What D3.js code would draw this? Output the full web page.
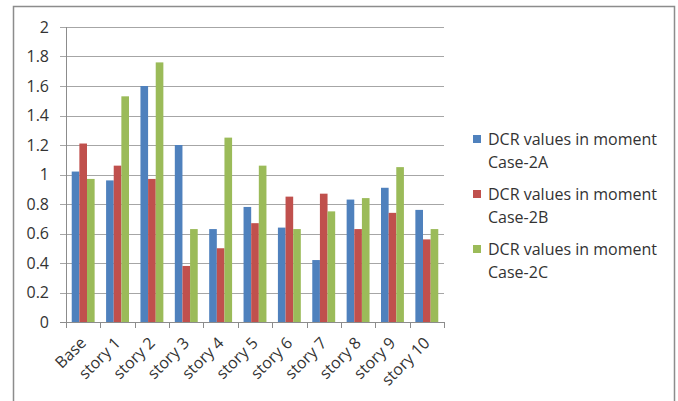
<!DOCTYPE html>
<html>
<head>
<meta charset="utf-8">
<script src="https://cdn.jsdelivr.net/npm/d3@7"></script>
<style>
  body { margin: 0; background: #fff; }
  svg text { font-family: "Open Sans", "Liberation Sans", sans-serif; fill: #333; }
</style>
</head>
<body>
<div id="chart"></div>
<script>
var categories = ["Base", "story 1", "story 2", "story 3", "story 4", "story 5",
                  "story 6", "story 7", "story 8", "story 9", "story 10"];
var seriesNames = ["DCR values in moment Case-2A", "DCR values in moment Case-2B", "DCR values in moment Case-2C"];
var case2A = [1.02, 0.96, 1.60, 1.20, 0.63, 0.78, 0.64, 0.42, 0.83, 0.91, 0.76];
var case2B = [1.21, 1.06, 0.97, 0.38, 0.50, 0.67, 0.85, 0.87, 0.63, 0.74, 0.56];
var case2C = [0.97, 1.53, 1.76, 0.63, 1.25, 1.06, 0.63, 0.75, 0.84, 1.05, 0.63];
var yTicks = [0, 0.2, 0.4, 0.6, 0.8, 1, 1.2, 1.4, 1.6, 1.8, 2];
var colors = ["#4F81BD", "#C0504D", "#9BBB59"];

var W = 678, H = 401;
var margin = {top: 27, left: 66, right: 234, bottom: 79};
var width = W - margin.left - margin.right;
var height = H - margin.top - margin.bottom;

var series = [case2A, case2B, case2C];

var svg = d3.select("#chart").append("svg")
    .attr("width", W)
    .attr("height", H);

// outer chart frame (bottom edge cut off in the picture)
svg.append("path")
    .attr("d", "M13.5," + H + "V6.5H674.5V" + H)
    .attr("fill", "none")
    .attr("stroke", "#8c8c8c")
    .attr("stroke-width", 1.5);

var g = svg.append("g")
    .attr("transform", "translate(" + margin.left + "," + margin.top + ")");

var x = d3.scaleBand().domain(categories).range([0, width]).paddingInner(0).paddingOuter(0);
var y = d3.scaleLinear().domain([0, 2]).range([height, 0]);

// bar group sized like Excel's 150% gap width
var barW = x.bandwidth() / 4.5;
var x1 = d3.scaleBand().domain(d3.range(3)).range([barW * 0.75, barW * 3.75]);

// gridlines + y labels
var yAxis = g.append("g");
yAxis.selectAll("line.grid").data(yTicks).enter().append("line")
    .attr("class", "grid")
    .attr("x1", -6).attr("x2", width)
    .attr("y1", function(d) { return Math.round(y(d)) + 0.5; })
    .attr("y2", function(d) { return Math.round(y(d)) + 0.5; })
    .attr("stroke", function(d) { return d === 0 ? "#8c8c8c" : "#a6a6a6"; })
    .attr("stroke-width", 1);
yAxis.selectAll("text").data(yTicks).enter().append("text")
    .attr("x", -17)
    .attr("y", function(d) { return y(d); })
    .attr("dy", "0.35em")
    .attr("text-anchor", "end")
    .style("font-size", "16px")
    .text(function(d) { return d; });

// bars
var cat = g.selectAll(".cat").data(categories).enter().append("g")
    .attr("class", "cat")
    .attr("transform", function(d) { return "translate(" + x(d) + ",0)"; });

cat.selectAll("rect")
    .data(function(d, i) { return series.map(function(s, k) { return {k: k, v: s[i]}; }); })
    .enter().append("rect")
    .attr("x", function(d) { return x1(d.k); })
    .attr("width", x1.bandwidth())
    .attr("y", function(d) { return y(d.v); })
    .attr("height", function(d) { return height - y(d.v); })
    .attr("fill", function(d) { return colors[d.k]; });

// y axis line
g.append("line")
    .attr("x1", 0.5).attr("x2", 0.5)
    .attr("y1", 0).attr("y2", height)
    .attr("stroke", "#8c8c8c");

// x ticks at band boundaries
var bounds = categories.map(function(c) { return x(c); }).concat([width]);
g.selectAll("line.xtick").data(bounds).enter().append("line")
    .attr("class", "xtick")
    .attr("x1", function(d) { return Math.round(d) + 0.5; })
    .attr("x2", function(d) { return Math.round(d) + 0.5; })
    .attr("y1", height).attr("y2", height + 6)
    .attr("stroke", "#8c8c8c");

// rotated category labels
g.selectAll("text.xlab").data(categories).enter().append("text")
    .attr("class", "xlab")
    .attr("text-anchor", "end")
    .style("font-size", "16px")
    .attr("transform", function(d) {
        return "translate(" + (x(d) + x.bandwidth() / 2 + 4) + "," + (height + 22) + ") rotate(-45)";
    })
    .text(function(d) { return d; });

// legend
var legend = svg.append("g").attr("transform", "translate(473,139)");
var item = legend.selectAll(".leg").data(seriesNames).enter().append("g")
    .attr("class", "leg")
    .attr("transform", function(d, i) { return "translate(0," + (i * 55) + ")"; });
item.append("rect")
    .attr("x", 0).attr("y", -4)
    .attr("width", 8).attr("height", 8)
    .attr("fill", function(d, i) { return colors[i]; });
item.append("text")
    .attr("x", 15).attr("y", 0)
    .attr("dy", "0.35em")
    .style("font-size", "16px")
    .text(function(d) { return d.replace(/ Case.*/, ""); });
item.append("text")
    .attr("x", 15).attr("y", 23)
    .attr("dy", "0.35em")
    .style("font-size", "16px")
    .text(function(d) { return d.replace(/.* (Case)/, "$1"); });
</script>
</body>
</html>
